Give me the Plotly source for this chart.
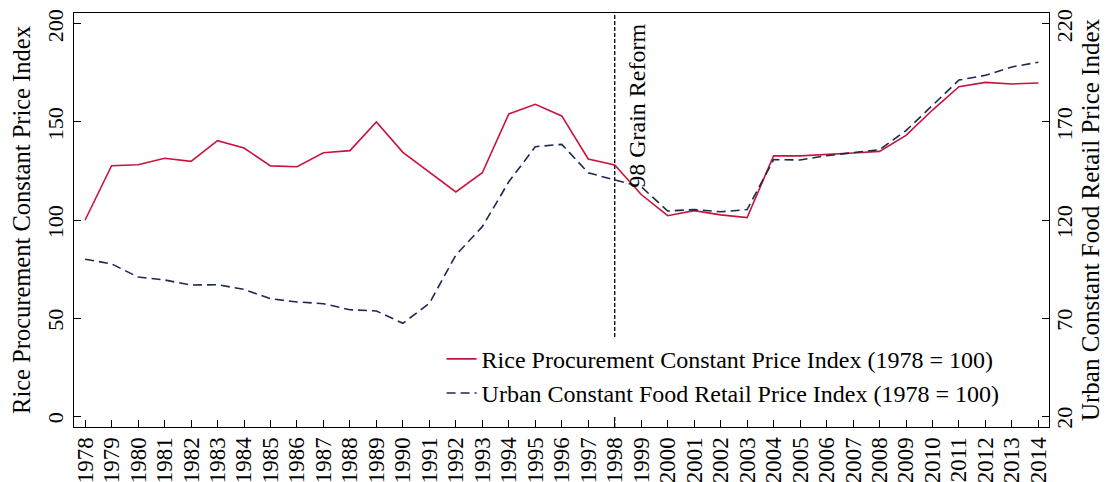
import plotly.graph_objects as go

years = list(range(1978, 2015))

# Rice procurement constant price index (left axis, 1978 = 100)
rice = [100, 127.7, 128.2, 131.5, 129.9, 140.5, 136.7, 127.6, 127.2, 134.3,
        135.4, 150.0, 134.5, 124.6, 114.3, 124.1, 154.1, 159.0, 153.1, 131.1,
        128.1, 113.0, 102.2, 104.8, 102.6, 101.2, 132.8, 132.7, 133.3, 134.2,
        135.0, 143.2, 156.1, 168.0, 170.2, 169.4, 169.9]

# Urban constant food retail price index (right axis, 1978 = 100)
urban = [100, 97.6, 90.9, 89.4, 86.8, 87.0, 84.6, 79.8, 78.2, 77.3,
         74.2, 73.6, 67.3, 77.5, 102.1, 116.6, 139.5, 157.4, 158.6, 144.1,
         140.4, 137.0, 124.6, 125.3, 124.2, 125.3, 150.8, 150.6, 152.8, 154.2,
         155.9, 165.6, 178.7, 191.4, 193.8, 198.1, 200.5]

left_ticks = [0, 50, 100, 150, 200]
right_ticks = [20, 70, 120, 170, 220]
reform_year = 1998

serif = "Liberation Serif"
red = "#c8143c"
navy = "#1c2a52"

fig = go.Figure()
fig.add_trace(go.Scatter(x=years, y=rice, mode="lines", yaxis="y",
                         name="Rice Procurement Constant Price Index (1978 = 100)",
                         line=dict(color=red, width=1.6)))
fig.add_trace(go.Scatter(x=years, y=urban, mode="lines", yaxis="y2",
                         name="Urban Constant Food Retail Price Index (1978 = 100)",
                         line=dict(color=navy, width=1.6, dash="9px,5px")))

# reform marker
fig.add_shape(type="line", x0=reform_year, x1=reform_year, y0=0, y1=1,
              xref="x", yref="paper", layer="below",
              line=dict(color="black", width=1.3, dash="4px,2px"))
fig.add_annotation(x=reform_year, y=0.978, xref="x", yref="paper",
                   text="98 Grain Reform", textangle=-90, showarrow=False,
                   xanchor="left", yanchor="top", xshift=7,
                   font=dict(family=serif, size=24, color="black"))

axis_common = dict(showgrid=False, zeroline=False, showline=True, automargin=False,
                   linecolor="black", linewidth=1, ticks="inside", ticklen=7,
                   tickcolor="black", ticklabeloverflow="allow",
                   tickfont=dict(family=serif, size=22, color="black"))

# page body adds an 8px offset, so the figure is 8px smaller than the window
fig.update_layout(
    width=1109, height=474,
    margin=dict(l=66, r=68, t=5, b=55),
    plot_bgcolor="white", paper_bgcolor="white",
    font=dict(family=serif, color="black"),
    xaxis=dict(axis_common, range=[1977.58, 2014.4], tickvals=years,
               tickangle=-90, mirror=True, ticklabelstandoff=0,
               tickfont=dict(family=serif, size=23, color="black")),
    yaxis=dict(axis_common, range=[-5.6, 205.6], tickvals=left_ticks,
               tickangle=-90, ticklabelstandoff=1, ticklabelshift=5,
               title=dict(text="Rice Procurement Constant Price Index",
                          font=dict(family=serif, size=24.5), standoff=13)),
    yaxis2=dict(axis_common, range=[14.4, 225.6], tickvals=right_ticks,
                tickangle=-90, overlaying="y", side="right",
                ticklabelstandoff=-4, ticklabelshift=5,
                title=dict(text="Urban Constant Food Retail Price Index",
                           font=dict(family=serif, size=25), standoff=0)),
    legend=dict(x=0.377, y=0.218, xanchor="left", yanchor="top",
                bgcolor="white", borderwidth=0,
                font=dict(family=serif, size=24, color="black"),
                tracegroupgap=0),
    showlegend=True,
)

fig.write_html("out.html")
